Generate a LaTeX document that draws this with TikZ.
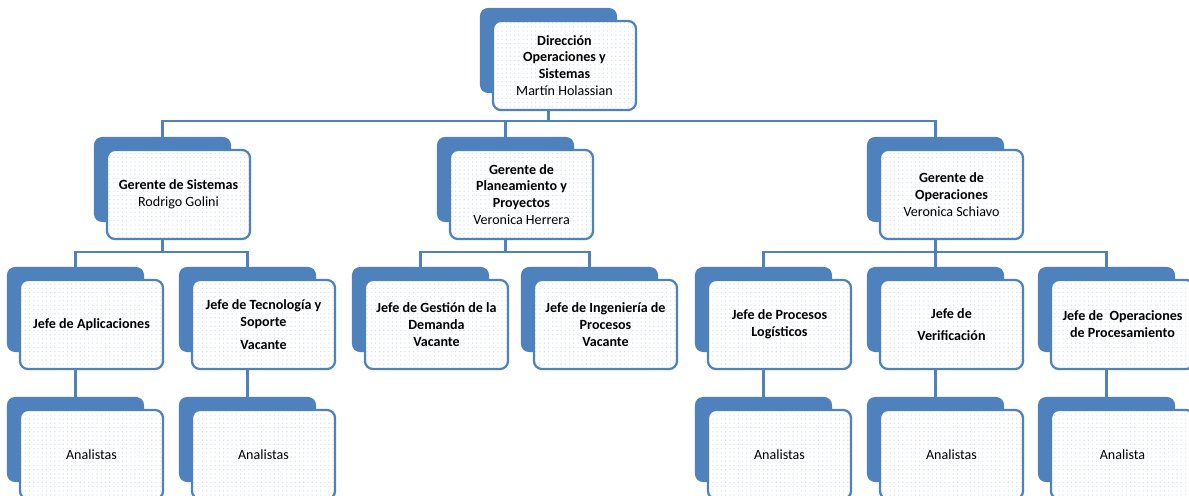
\documentclass[tikz,border=0pt]{standalone}
\usepackage{fontspec}
\setmainfont{Carlito}
\usetikzlibrary{patterns}

\definecolor{orgblue}{RGB}{79,129,189}

\tikzset{
  backbox/.style={fill=orgblue, rounded corners=0.2cm, minimum width=3.425cm, minimum height=2.125cm, inner sep=0pt},
  frontbox/.style={draw=orgblue, line width=1.6pt, rounded corners=0.2cm, preaction={fill=white}, pattern=dots, pattern color=orgblue!22, minimum width=3.575cm, minimum height=2.225cm, inner sep=2pt, align=center, font=\fontsize{10}{12}\selectfont\bfseries},
  link/.style={draw=orgblue, line width=2.1pt}
}

\begin{document}
\begin{tikzpicture}[x=0.025cm, y=-0.025cm]
            \clip (0,0) rectangle (1189,495);

            % Direccion
            \node[backbox] (dirB) at (548.5,50.5) {};
            \node[frontbox] (dir) at ([shift={(16,15)}]dirB) {Dirección\\Operaciones y\\Sistemas\\{\mdseries Martín Holassian}};

            % Gerentes
            \node[backbox] (gsisB) at (162.5,179.5) {};
            \node[frontbox] (gsis) at ([shift={(16,15)}]gsisB) {Gerente de Sistemas\\{\mdseries Rodrigo Golini}};
            \node[backbox] (gplanB) at (505.5,179.5) {};
            \node[frontbox] (gplan) at ([shift={(16,15)}]gplanB) {Gerente de\\Planeamiento y\\Proyectos\\{\mdseries Veronica Herrera}};
            \node[backbox] (gopeB) at (935.5,179.5) {};
            \node[frontbox] (gope) at ([shift={(16,15)}]gopeB) {Gerente de\\Operaciones\\{\mdseries Veronica Schiavo}};

            % Jefes
            \node[backbox] (japlB) at (75.5,309.5) {};
            \node[frontbox] (japl) at ([shift={(16,15)}]japlB) {Jefe de Aplicaciones};
            \node[backbox] (jtecB) at (247.5,309.5) {};
            \node[frontbox] (jtec) at ([shift={(16,15)}]jtecB) {Jefe de Tecnología y\\Soporte\\[4pt]Vacante};
            \node[backbox] (jdemB) at (420.5,309.5) {};
            \node[frontbox] (jdem) at ([shift={(16,15)}]jdemB) {Jefe de Gestión de la\\Demanda\\Vacante};
            \node[backbox] (jingB) at (589.5,309.5) {};
            \node[frontbox] (jing) at ([shift={(16,15)}]jingB) {Jefe de Ingeniería de\\Procesos\\Vacante};
            \node[backbox] (jlogB) at (763.5,309.5) {};
            \node[frontbox] (jlog) at ([shift={(16,15)}]jlogB) {Jefe de Procesos\\Logísticos};
            \node[backbox] (jverB) at (935.5,309.5) {};
            \node[frontbox] (jver) at ([shift={(16,15)}]jverB) {Jefe de\\[4pt]Verificación};
            \node[backbox] (joppB) at (1106.5,309.5) {};
            \node[frontbox] (jopp) at ([shift={(16,15)}]joppB) {Jefe de\ \ Operaciones\\de Procesamiento};

            % Analistas
            \node[backbox] (an1B) at (75.5,439.5) {};
            \node[frontbox, font=\fontsize{10}{12}\selectfont] (an1) at ([shift={(16,15)}]an1B) {Analistas};
            \node[backbox] (an2B) at (247.5,439.5) {};
            \node[frontbox, font=\fontsize{10}{12}\selectfont] (an2) at ([shift={(16,15)}]an2B) {Analistas};
            \node[backbox] (an3B) at (763.5,439.5) {};
            \node[frontbox, font=\fontsize{10}{12}\selectfont] (an3) at ([shift={(16,15)}]an3B) {Analistas};
            \node[backbox] (an4B) at (935.5,439.5) {};
            \node[frontbox, font=\fontsize{10}{12}\selectfont] (an4) at ([shift={(16,15)}]an4B) {Analistas};
            \node[backbox] (an5B) at (1106.5,439.5) {};
            \node[frontbox, font=\fontsize{10}{12}\selectfont] (an5) at ([shift={(16,15)}]an5B) {Analista};

            % Links
            \coordinate (bar1) at (548.5,121);
            \coordinate (bar2) at (0,252);
            \draw[link] (dirB.center |- dir.south) |- (bar1 -| gsisB.north) -- (gsisB.north);
            \draw[link] (dirB.center |- dir.south) |- (bar1 -| gplanB.north) -- (gplanB.north);
            \draw[link] (dirB.center |- dir.south) |- (bar1 -| gopeB.north) -- (gopeB.north);

            \draw[link] (gsisB.center |- gsis.south) |- (bar2 -| japlB.north) -- (japlB.north);
            \draw[link] (gsisB.center |- gsis.south) |- (bar2 -| jtecB.north) -- (jtecB.north);
            \draw[link] (gplanB.center |- gplan.south) |- (bar2 -| jdemB.north) -- (jdemB.north);
            \draw[link] (gplanB.center |- gplan.south) |- (bar2 -| jingB.north) -- (jingB.north);
            \draw[link] (gopeB.center |- gope.south) |- (bar2 -| jlogB.north) -- (jlogB.north);
            \draw[link] (gopeB.center |- gope.south) |- (bar2 -| jverB.north) -- (jverB.north);
            \draw[link] (gopeB.center |- gope.south) |- (bar2 -| joppB.north) -- (joppB.north);

            \draw[link] (japlB.center |- japl.south) -- (an1B.north);
            \draw[link] (jtecB.center |- jtec.south) -- (an2B.north);
            \draw[link] (jlogB.center |- jlog.south) -- (an3B.north);
            \draw[link] (jverB.center |- jver.south) -- (an4B.north);
            \draw[link] (joppB.center |- jopp.south) -- (an5B.north);

        \end{tikzpicture}
\end{document}
